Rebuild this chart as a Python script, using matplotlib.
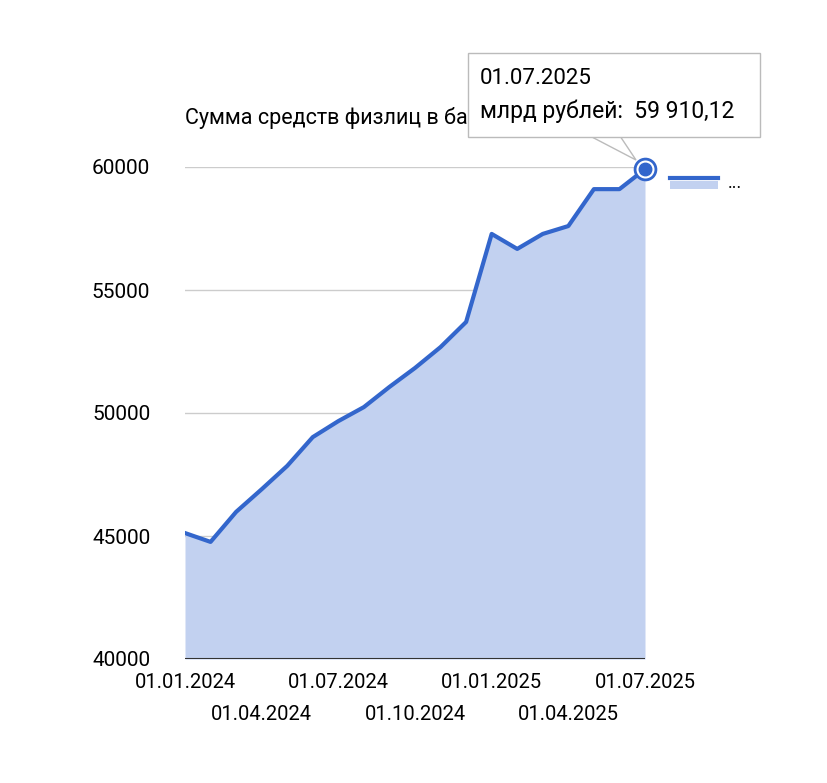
import matplotlib.pyplot as plt
from matplotlib.patches import FancyBboxPatch

plt.rcParams['font.family'] = ['Roboto', 'DejaVu Sans']

dates = ["01.01.2024", "01.02.2024", "01.03.2024", "01.04.2024", "01.05.2024",
         "01.06.2024", "01.07.2024", "01.08.2024", "01.09.2024", "01.10.2024",
         "01.11.2024", "01.12.2024", "01.01.2025", "01.02.2025", "01.03.2025",
         "01.04.2025", "01.05.2025", "01.06.2025", "01.07.2025"]
values = [45120, 44760, 45980, 46900, 47850, 49020, 49670, 50240, 51060, 51830,
          52680, 53700, 57280, 56670, 57280, 57600, 59100, 59100, 59910.12]
yticks = [40000, 45000, 50000, 55000, 60000]

line_c = '#3366cc'
fig = plt.figure(figsize=(8.28, 7.83), dpi=100)
ax = fig.add_axes([185/828, 1-659/783, 460/828, 492/783])
x = list(range(len(values)))
ax.fill_between(x, values, 40000, color='#c2d1f0', lw=0)
ax.plot(x, values, color=line_c, lw=3)
ax.plot(x[-1], values[-1], 'o', ms=15, mfc='white', mec=line_c, mew=2, zorder=5, clip_on=False)
ax.plot(x[-1], values[-1], 'o', ms=9, color=line_c, zorder=6, clip_on=False)

ax.set_xlim(0, len(values)-1)
ax.set_ylim(40000, 60000)
ax.set_yticks(yticks)
ax.set_yticklabels([str(v) for v in yticks])
for v in yticks:
    ax.axhline(v, color='#cccccc', lw=1, zorder=0)
ticks = list(range(0, len(values), 3))
labels = [dates[i] if (i // 3) % 2 == 0 else "\n" + dates[i] for i in ticks]
ax.set_xticks(ticks)
ax.set_xticklabels(labels, fontsize=14.5, linespacing=1.85)
ax.tick_params(axis='y', labelsize=15, length=0, pad=25)
ax.tick_params(axis='x', length=0, pad=10)
for s in ax.spines.values():
    s.set_visible(False)
ax.axhline(40000, color='#333333', lw=1.5, zorder=4)
ax.set_axisbelow(True)

fig.text(185/828, 1-118/783, "Сумма средств физлиц в банках", fontsize=15.5, va='center')

# legend
fig.add_artist(plt.Line2D([670/828, 718/828], [1-178/783]*2, color=line_c, lw=3))
fig.add_artist(plt.Rectangle((670/828, 1-189/783), 48/828, 8/783, color='#c2d1f0', lw=0))
fig.text(728/828, 1-183/783, "...", fontsize=13, va='center')

# tooltip
fig.add_artist(plt.Polygon([[590/828, 1-136/783], [636/828, 1-160/783], [620/828, 1-136/783]],
                           closed=True, fc='white', ec='#bbbbbb', lw=1, zorder=9))
box = FancyBboxPatch((468/828, 1-137/783), 292/828, 84/783, boxstyle='square,pad=0',
                     fc='white', ec='#bbbbbb', lw=1, transform=fig.transFigure, zorder=10)
fig.add_artist(box)
fig.text(480/828, 1-79/783, dates[-1], fontsize=16, va='center', zorder=11)
fig.text(480/828, 1-111/783, "млрд рублей:  59 910,12", fontsize=16.5, va='center', zorder=11)

fig.savefig("out.png", dpi=100)
